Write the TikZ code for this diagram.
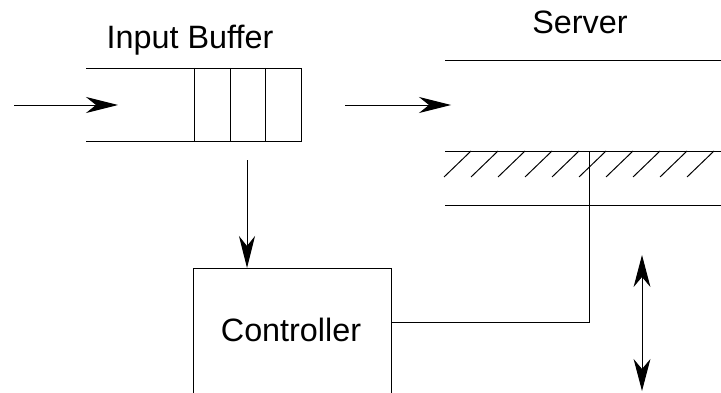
\documentclass[tikz,border=0pt]{standalone}
\usepackage{fontspec}
\setmainfont{Liberation Sans}
\usetikzlibrary{arrows.meta}

\begin{document}
\begin{tikzpicture}[x=0.025cm,y=-0.025cm,line width=0.7pt,
    flow/.style={-{Stealth[length=8mm,width=4mm,inset=2.5mm]}},
    both/.style={{Stealth[length=8mm,width=4.2mm,inset=2.5mm]}-{Stealth[length=8mm,width=4.2mm,inset=2.5mm]}},
    lbl/.style={font=\fontsize{23}{27}\selectfont}]
    \useasboundingbox (0,0) rectangle (721,393);
    \clip (0,0) rectangle (721,393);

    % input buffer
    \coordinate (bufTL) at (86,68);
    \coordinate (bufTR) at (301,68);
    \coordinate (bufBL) at (86,141);
    \coordinate (bufBR) at (301,141);
    \draw (bufTL) -- (bufTR) -- (bufBR) -- (bufBL);
    \foreach \x in {194,230,265}
        \draw (\x,68) -- (\x,141);
    \node[lbl] (buflabel) at (190,40) {Input Buffer};

    \coordinate (in) at (14,105);
    \coordinate (inEnd) at (118,105);
    \draw[flow] (in) -- (inEnd);

    \coordinate (out) at (345,105);
    \coordinate (outEnd) at (451,105);
    \draw[flow] (out) -- (outEnd);

    % server
    \coordinate (srvTop) at (445,60);
    \coordinate (srvMid) at (445,151);
    \coordinate (srvBot) at (445,205);
    \draw (srvTop) -- (721,60);
    \draw (srvMid) -- (721,151);
    \draw (srvBot) -- (721,205);
    \foreach \x in {471,498,...,714}
        \draw (\x,151) -- (\x-27,177);
    \node[lbl] (srvlabel) at (580,22) {Server};

    % controller
    \node[lbl,draw,minimum width=198*0.025cm,minimum height=140*0.025cm,
          anchor=north west,inner sep=0pt] (ctrl) at (193,268) {};
    \node[lbl] (ctrllabel) at (291,330) {Controller};

    \coordinate (bufOut) at (247,160);
    \draw[flow] (bufOut) -- (bufOut |- ctrl.north);

    \coordinate (tap) at (589,151);
    \coordinate (bend) at (589,322);
    \draw (tap) -- (bend) -- (bend -| ctrl.east);

    % up/down movement
    \coordinate (moveTop) at (642,255);
    \coordinate (moveBot) at (642,391);
    \draw[both] (moveTop) -- (moveBot);
\end{tikzpicture}
\end{document}
